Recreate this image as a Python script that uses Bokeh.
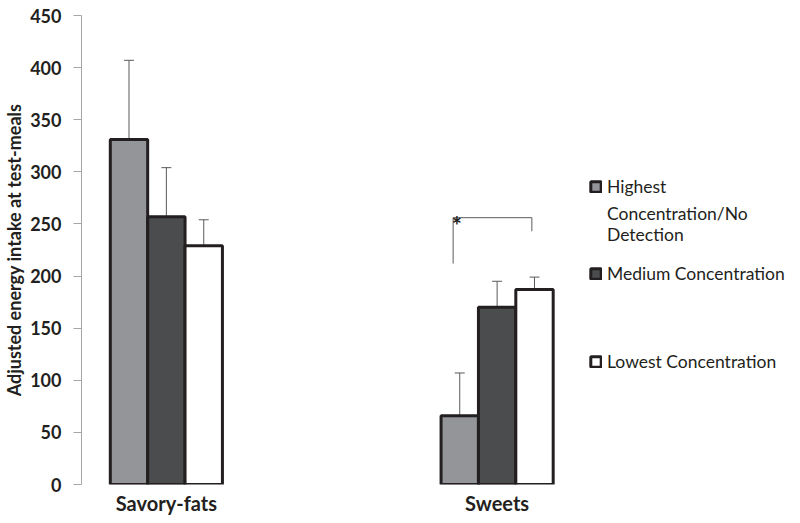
from bokeh.plotting import figure
from bokeh.models import (ColumnDataSource, FixedTicker, Whisker, TeeHead,
                          Legend, LegendItem, Range1d)
from bokeh.embed import file_html
from bokeh.resources import INLINE
from bokeh.core.properties import value

# ---- data ----
categories = ["Savory-fats", "Sweets"]
series_first_lines = ["Highest", "Medium Concentration", "Lowest Concentration"]
series_extra_lines = ["Concentration/No\nDetection", "", ""]
highest = [331, 66]
medium = [257, 170]
lowest = [229, 187]
highest_err = [76, 41]
medium_err = [47, 25]
lowest_err = [25, 12]
y_ticks = [0, 50, 100, 150, 200, 250, 300, 350, 400, 450]
# significance bracket (Sweets: highest vs lowest)
sig_category = "Sweets"
sig_top = 256
sig_left_bottom = 212
sig_right_bottom = 243
sig_text = "*"

# ---- style ----
colors = ["#939598", "#4b4c4e", "#ffffff"]
edge = "#231f20"
bar_w = 0.113
offsets = [-bar_w, 0.0, bar_w]

p = figure(width=790, height=517, output_backend="svg", toolbar_location=None,
           x_range=Range1d(-0.2566, 1.887), y_range=Range1d(0, 450),
           min_border_left=80, min_border_right=0, min_border_top=15,
           min_border_bottom=32)
p.outline_line_color = None
p.grid.visible = False
p.background_fill_color = "white"

xs = list(range(len(categories)))
renderers = []
for vals, errs, off, col in zip([highest, medium, lowest],
                                [highest_err, medium_err, lowest_err],
                                offsets, colors):
    bx = [x + off for x in xs]
    src = ColumnDataSource(dict(x=bx, top=vals,
                                upper=[v + e for v, e in zip(vals, errs)]))
    r = p.vbar(x="x", top="top", bottom=0, width=bar_w, source=src,
               fill_color=col, line_color=edge, line_width=3)
    renderers.append(r)
    w = Whisker(base="x", lower="top", upper="upper", source=src,
                line_color="#5a5a5a", line_width=1, lower_head=None,
                upper_head=TeeHead(size=10, line_color="#5a5a5a", line_width=1))
    w.level = "underlay"
    p.add_layout(w)

# invisible renderer used only to hold continuation lines of a legend label
blank = p.vbar(x=[], top=[], width=bar_w, fill_alpha=0, line_alpha=0)

# significance bracket
si = categories.index(sig_category)
lx = si + offsets[0] - 0.02
rx = si + offsets[2] - 0.008
p.line(x=[lx, lx, rx, rx], y=[sig_left_bottom, sig_top, sig_top, sig_right_bottom],
       line_color="#5a5a5a", line_width=1)
p.text(x=[lx + 0.011], y=[sig_top], text=[sig_text], text_font=value("Lato"),
       text_font_style="bold", text_font_size="24px", text_align="center",
       text_baseline="top", y_offset=-7, text_color=edge)

# axes
yax = p.yaxis[0]
yax.ticker = FixedTicker(ticks=y_ticks)
yax.axis_line_color = "#a6a6a6"
yax.major_tick_line_color = "#a6a6a6"
yax.major_tick_out = 8
yax.major_tick_in = 0
yax.minor_tick_line_color = None
yax.major_label_standoff = 12
yax.major_label_text_font = "Lato"
yax.major_label_text_font_style = "bold"
yax.major_label_text_font_size = "18px"
yax.major_label_text_color = edge
yax.axis_label = "Adjusted energy intake at test-meals"
yax.axis_label_text_font = "Lato"
yax.axis_label_text_font_style = "bold"
yax.axis_label_text_font_size = "18px"
yax.axis_label_text_color = edge
yax.axis_label_standoff = 2

xax = p.xaxis[0]
xax.ticker = FixedTicker(ticks=xs)
xax.major_label_overrides = {i: c for i, c in enumerate(categories)}
xax.axis_line_color = None
xax.major_tick_line_color = None
xax.major_tick_out = 0
xax.major_tick_in = 0
xax.minor_tick_line_color = None
xax.major_label_standoff = 6
xax.major_label_text_font = "Lato"
xax.major_label_text_font_style = "bold"
xax.major_label_text_font_size = "20px"
xax.major_label_text_color = edge

# legends (separate blocks, spaced as in the original)
legend_style = dict(border_line_color=None, background_fill_alpha=0,
                    padding=0, margin=0, spacing=0,
                    glyph_width=13, glyph_height=13, label_standoff=5,
                    label_text_font="Lato", label_text_font_size="17.5px",
                    label_text_color=edge)
leg_x = 508
leg_locs = [(leg_x, 287), (leg_x, 200), (leg_x, 112)]
for r, lab, loc in zip(renderers, series_first_lines, leg_locs):
    p.add_layout(Legend(items=[LegendItem(label=lab, renderers=[r])],
                        location=loc, **legend_style))
p.add_layout(Legend(items=[LegendItem(label=series_extra_lines[0], renderers=[blank])],
                    location=(leg_x, 239), **legend_style))

open("out.html", "w").write(file_html(p, INLINE))
